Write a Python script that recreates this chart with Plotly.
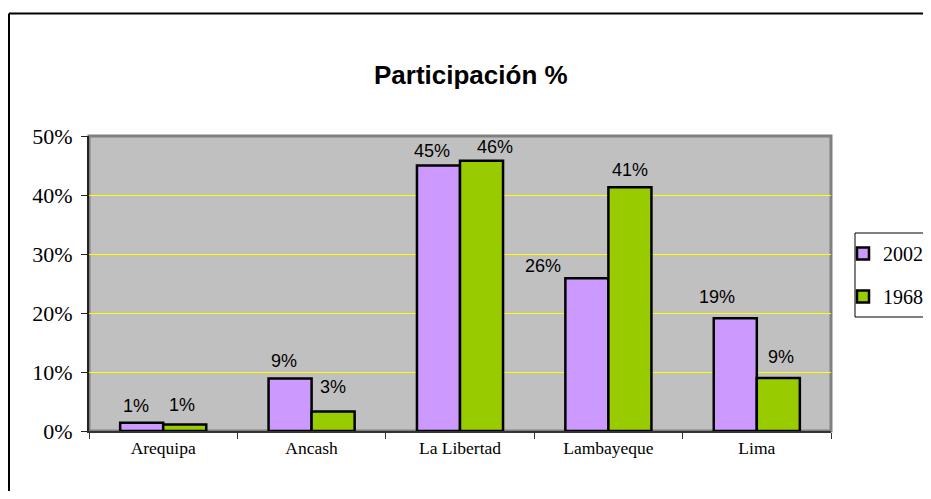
import plotly.graph_objects as go

# ---- data ----
categories = ["Arequipa", "Ancash", "La Libertad", "Lambayeque", "Lima"]
series_names = ["2002", "1968"]
values_2002 = [1.4, 8.9, 45.0, 25.9, 19.1]
values_1968 = [1.1, 3.3, 45.8, 41.3, 9.0]
y_tick_values = [0, 10, 20, 30, 40, 50]
title_text = "Participación %"

# ---- styles ----
# page body has an 8px margin; size the figure so the page never overflows
OFF = 8
W, H = 931 - 2 * OFF, 499 - 2 * OFF
PL, PR, PT, PB = 89, 831, 136, 431          # plot area in window pixels
L, R, T, B = PL - OFF, W - (PR - OFF), PT - OFF, H - (PB - OFF)
PW, PH = PR - PL, PB - PT
colors = ["#CC99FF", "#99CC00"]
serif = "Liberation Serif"
sans = "Liberation Sans"
bargap = 0.42
# fine label offsets (px) per series: dx, distance of text centre above bar top
label_dx = [[-6, -6, -6, -44, -18], [-3, 0, 13, 0, 3]]
label_dy = [[17, 17, 15, 12, 21], [20, 25, 14, 17, 21]]


def px_x(p):
    return (p - PL) / PW


def px_y(p):
    return (PB - p) / PH


fig = go.Figure()
series_values = [values_2002, values_1968]
for i, (name, vals) in enumerate(zip(series_names, series_values)):
    fig.add_trace(go.Bar(
        x=categories, y=vals, name=name, legendgroup=name,
        marker=dict(color=colors[i], line=dict(color="black", width=2.5)),
        hoverinfo="x+y",
    ))

cat_px = PW / len(categories)
bar_px = cat_px * (1 - bargap) / 2
annotations = []
for i, vals in enumerate(series_values):
    base_shift = (-0.5 if i == 0 else 0.5) * bar_px
    for j, (c, v) in enumerate(zip(categories, vals)):
        annotations.append(dict(
            x=c, y=v, xref="x", yref="y", text=f"{v:.0f}%", showarrow=False,
            xshift=base_shift + label_dx[i][j], yshift=label_dy[i][j],
            xanchor="center", yanchor="middle",
            font=dict(family=sans, size=18, color="black"),
        ))

annotations.append(dict(
    x=px_x(471), y=px_y(75), xref="paper", yref="paper", text=f"<b>{title_text}</b>",
    showarrow=False, xanchor="center", yanchor="middle",
    font=dict(family=sans, size=26, color="black"),
))


def seg(x0, y0, x1, y1, color="black", width=2):
    return dict(type="line", xref="paper", yref="paper",
                x0=px_x(x0), x1=px_x(x1), y0=px_y(y0), y1=px_y(y1),
                line=dict(color=color, width=width), layer="below")


shapes = [
    # legend box background (open to the right edge)
    dict(type="rect", xref="paper", yref="paper",
         x0=px_x(855), x1=px_x(940), y0=px_y(317), y1=px_y(233),
         line=dict(width=0), fillcolor="white", layer="below"),
    # outer chart frame: top and left sides visible
    seg(9, 13.5, 940, 13.5),
    seg(9, 13.5, 9, 520),
    # plot area border (top/right grey)
    dict(type="rect", xref="paper", yref="paper", x0=0, x1=1, y0=0, y1=1,
         line=dict(color="#808080", width=3), fillcolor="rgba(0,0,0,0)", layer="below"),
    # legend box outline
    seg(855, 233, 940, 233, width=1),
    seg(855, 233, 855, 317, width=1),
    seg(855, 317, 940, 317, width=1),
]

fig.update_layout(
    width=W, height=H,
    margin=dict(l=L, r=R, t=T, b=B, autoexpand=False),
    paper_bgcolor="white", plot_bgcolor="#C0C0C0",
    barmode="group", bargap=bargap, bargroupgap=0,
    showlegend=True,
    legend=dict(x=px_x(843), y=px_y(234), xanchor="left", yanchor="top",
                bgcolor="rgba(0,0,0,0)", borderwidth=0,
                font=dict(family=serif, size=20, color="black"),
                tracegroupgap=14, traceorder="grouped"),
    annotations=annotations, shapes=shapes,
    xaxis=dict(type="category", showline=True, linecolor="#333333", linewidth=2,
               ticks="outside", tickson="boundaries", ticklen=6, tickcolor="#333333",
               tickfont=dict(family=serif, size=17.5, color="black"),
               showgrid=False, zeroline=False, mirror=False),
    yaxis=dict(range=[0, 50], tickvals=y_tick_values,
               ticktext=[f"{v}%" for v in y_tick_values],
               showline=True, linecolor="#222222", linewidth=2,
               ticks="outside", ticklen=6, tickcolor="#222222",
               tickfont=dict(family=serif, size=22, color="black"),
               showgrid=True, gridcolor="#FFFF00", gridwidth=1.4,
               zeroline=False, ticklabelstandoff=4),
)

fig.write_html("out.html")
